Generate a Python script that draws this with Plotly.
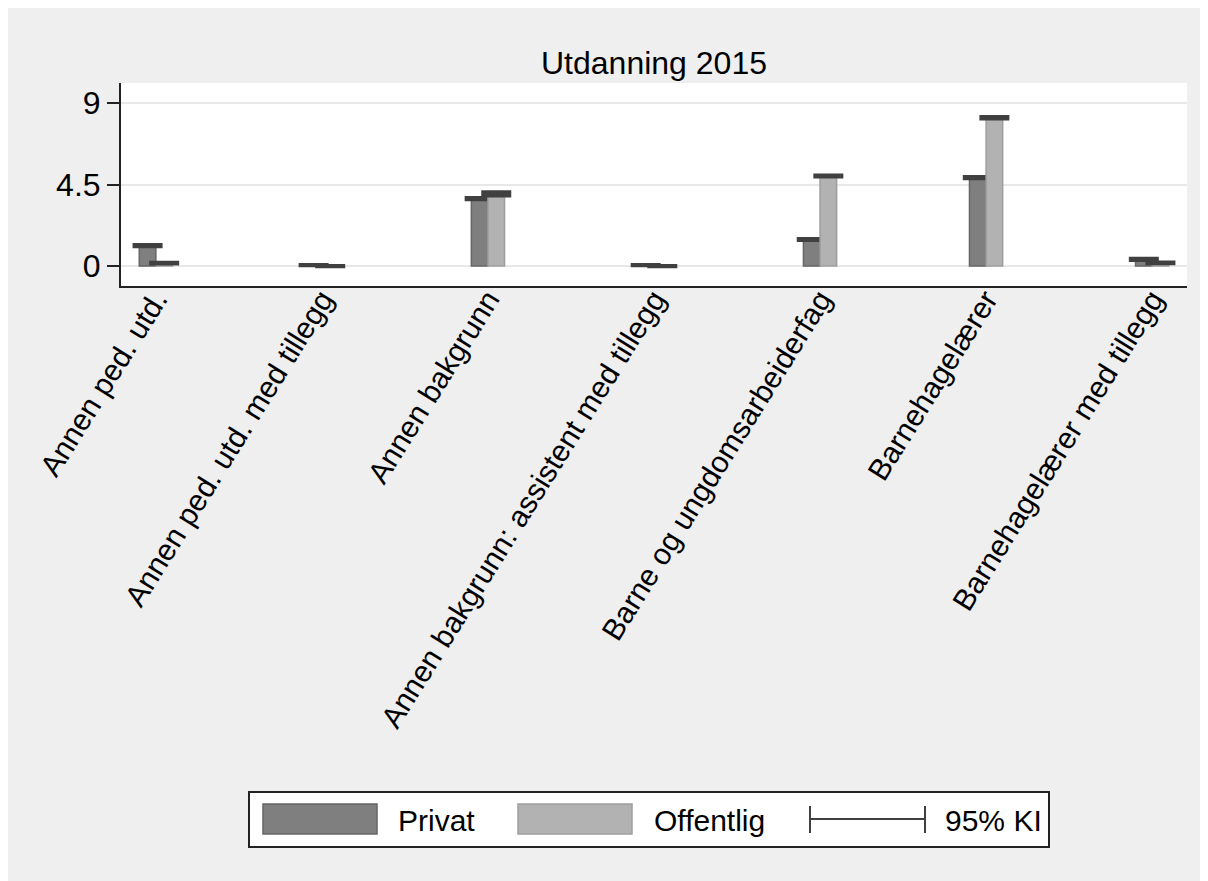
import plotly.graph_objects as go

categories = ["Annen ped. utd.", "Annen ped. utd. med tillegg", "Annen bakgrunn",
              "Annen bakgrunn: assistent med tillegg", "Barne og ungdomsarbeiderfag",
              "Barnehagelærer", "Barnehagelærer med tillegg"]
privat = [1.13, 0.05, 3.72, 0.05, 1.47, 4.88, 0.37]
offentlig = [0.16, 0.0, 3.98, 0.0, 4.97, 8.18, 0.17]
privat_ci = [0.03, 0.01, 0.04, 0.01, 0.03, 0.04, 0.03]
offentlig_ci = [0.02, 0.01, 0.09, 0.01, 0.03, 0.04, 0.02]
y_ticks = [0, 4.5, 9]
y_ticklabels = ["0", "4.5", "9"]
title_text = "Utdanning 2015"
legend_labels = ["Privat", "Offentlig", "95% KI"]

# page body has an 8px margin; coordinates below are in screenshot pixels
OFF = 8
W, H = 1208 - OFF, 881 - OFF
L, R, T, B = 121, 1187, 83, 286
FONT = "Liberation Sans, Arial, sans-serif"

def px(x):
    return (x - L) / (R - L)

def py(y):
    return (B - y) / (B - T)

fig = go.Figure()
fig.add_trace(go.Bar(
    x=categories, y=privat, name=legend_labels[0],
    marker=dict(color="#7f7f7f", line=dict(color="#666666", width=1.5)),
    error_y=dict(type="data", array=privat_ci, visible=True, color="#404040", thickness=4, width=15),
    showlegend=False))
fig.add_trace(go.Bar(
    x=categories, y=offentlig, name=legend_labels[1],
    marker=dict(color="#b2b2b2", line=dict(color="#9e9e9e", width=1.5)),
    error_y=dict(type="data", array=offentlig_ci, visible=True, color="#404040", thickness=4, width=15),
    showlegend=False))

shapes = []
# legend box
shapes.append(dict(type="rect", xref="paper", yref="paper", x0=px(249), x1=px(1049), y0=py(847), y1=py(792),
                   fillcolor="white", line=dict(color="#222222", width=2)))
shapes.append(dict(type="rect", xref="paper", yref="paper", x0=px(263), x1=px(377), y0=py(834), y1=py(804),
                   fillcolor="#7f7f7f", line=dict(color="#666666", width=1.5)))
shapes.append(dict(type="rect", xref="paper", yref="paper", x0=px(518), x1=px(632), y0=py(834), y1=py(804),
                   fillcolor="#b2b2b2", line=dict(color="#9e9e9e", width=1.5)))
shapes.append(dict(type="line", xref="paper", yref="paper", x0=px(810), x1=px(925), y0=py(819), y1=py(819),
                   line=dict(color="#404040", width=2)))
for xc in (810, 925):
    shapes.append(dict(type="line", xref="paper", yref="paper", x0=px(xc), x1=px(xc), y0=py(806), y1=py(833),
                       line=dict(color="#404040", width=2)))

annotations = [
    dict(text=title_text, xref="paper", yref="paper", x=0.5, y=py(63), showarrow=False,
         xanchor="center", yanchor="middle", font=dict(size=32, color="black", family=FONT)),
]
for label, xl in zip(legend_labels, (396, 652, 943)):
    annotations.append(dict(text=label, xref="paper", yref="paper", x=px(xl), y=py(820), showarrow=False,
                            xanchor="left", yanchor="middle", font=dict(size=30, color="black", family=FONT)))

fig.update_layout(
    width=W, height=H,
    margin=dict(l=L - OFF, r=W + OFF - R, t=T - OFF, b=H + OFF - B, pad=0),
    paper_bgcolor="#efefef", plot_bgcolor="white",
    barmode="group", bargap=0.8, bargroupgap=0,
    font=dict(family=FONT, color="black"),
    shapes=shapes, annotations=annotations,
    xaxis=dict(range=[-0.21, 6.21], showline=True, linecolor="#222222", linewidth=2,
               ticks="", tickangle=-58, ticklabelstandoff=-18,
               tickfont=dict(size=30, family=FONT, color="black"),
               showgrid=False, fixedrange=True),
    yaxis=dict(range=[-1.1, 10.1], tickvals=y_ticks, ticktext=y_ticklabels,
               showline=True, linecolor="#222222", linewidth=2, ticks="outside", ticklen=12,
               tickwidth=1.5, tickcolor="#222222", tickfont=dict(size=32, family=FONT, color="black"),
               showgrid=True, gridcolor="#e8e8e8", gridwidth=2, zeroline=False),
)

fig.write_html("out.html")
